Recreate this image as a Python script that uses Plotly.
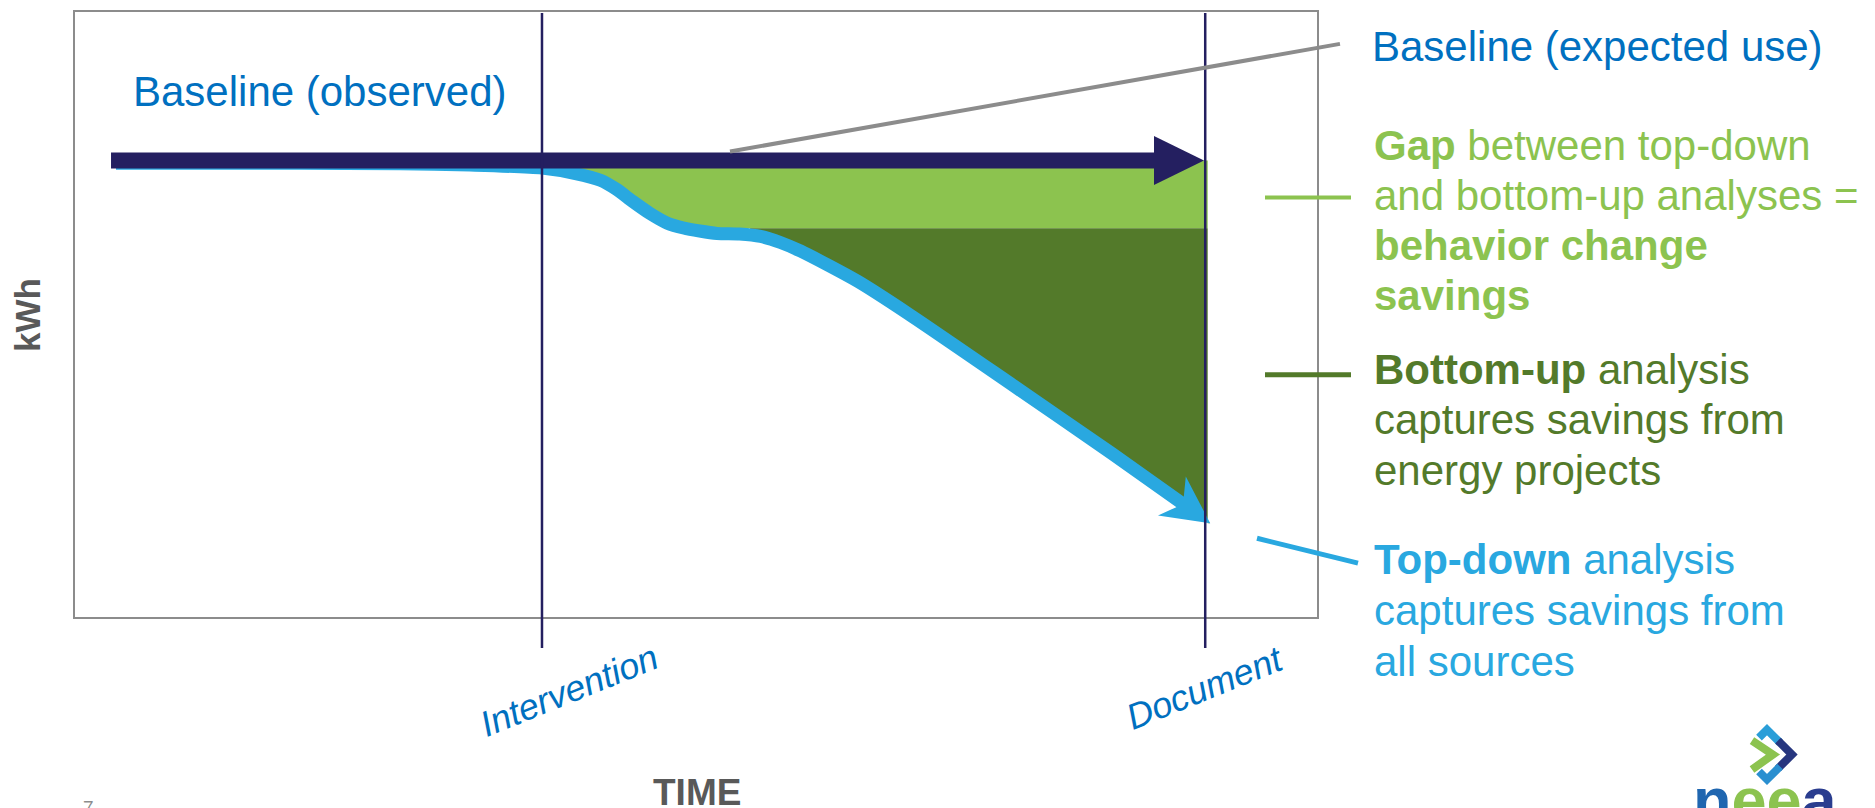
import math
import plotly.graph_objects as go

# ---------------- data (time units 0-100, kWh units 0-100) ----------------
time_topdown = [3.3, 18.1, 26.2, 31.8, 37.6, 40.3, 42.3, 43.6, 44.9, 46.3, 47.7, 49.0,
                50.3, 51.7, 53.5, 55.2, 56.8, 58.4, 63.0, 67.1, 75.3, 83.5, 91.4]
kwh_topdown = [75.0, 75.0, 74.9, 74.7, 74.2, 73.3, 72.2, 70.7, 68.7, 66.7, 65.1, 64.3,
               63.8, 63.4, 63.3, 62.9, 61.9, 60.5, 55.5, 50.1, 38.6, 27.0, 15.5]
time_baseline = [2.9, 90.9]
kwh_baseline = [75.45, 75.45]
kwh_bottomup_level = 64.25
time_gap_split = 54.3
time_fill_end = 91.2
event_labels = ["Intervention", "Document"]
event_times = [37.6, 91.0]

X_RANGE = [0, 100]
Y_RANGE = [0, 100]

# ---------------- layout geometry ----------------
W, H = 1875, 808
M_L, M_R, M_T, M_B = 75, 558, 10, 191
PW = W - M_L - M_R
PH = H - M_T - M_B

FONT = "Liberation Sans, Arial, sans-serif"
NAVY = "#241F60"
BLUE = "#29A8E0"
LIGHT_GREEN = "#8CC34F"
DARK_GREEN = "#537A2A"
TEXT_BLUE = "#0070C0"
GRAY = "#8C8C8C"
AXIS_TEXT = "#595959"


def d2p(x, y):
    px = M_L + (x - X_RANGE[0]) / (X_RANGE[1] - X_RANGE[0]) * PW
    py = M_T + PH - (y - Y_RANGE[0]) / (Y_RANGE[1] - Y_RANGE[0]) * PH
    return px, py


def p2d(px, py):
    x = X_RANGE[0] + (px - M_L) / PW * (X_RANGE[1] - X_RANGE[0])
    y = Y_RANGE[0] + (M_T + PH - py) / PH * (Y_RANGE[1] - Y_RANGE[0])
    return x, y


def paper(px, py):
    return (px - M_L) / PW, (M_T + PH - py) / PH


def arrow_geometry(x0, y0, x1, y1, head_len, head_half, notch_len, notch_half):
    ax, ay = d2p(x0, y0)
    bx, by = d2p(x1, y1)
    dx, dy = bx - ax, by - ay
    L = math.hypot(dx, dy)
    ux, uy = dx / L, dy / L
    nx, ny = -uy, ux

    def pt(a, p):
        return p2d(bx + ux * a + nx * p, by + uy * a + ny * p)

    poly = [pt(-notch_len, notch_half), pt(-head_len, head_half), pt(0, 0),
            pt(-head_len, -head_half), pt(-notch_len, -notch_half)]
    shaft_end = pt(-notch_len + 2, 0)
    return poly, shaft_end


fig = go.Figure()

# light green: gap (behavior change savings)
lg_x = [t for t in time_topdown if event_times[0] <= t <= time_gap_split]
lg_y = [k for t, k in zip(time_topdown, kwh_topdown) if event_times[0] <= t <= time_gap_split]
lg_x += [time_gap_split, time_fill_end, time_fill_end, event_times[0]]
lg_y += [kwh_bottomup_level, kwh_bottomup_level, kwh_baseline[1], kwh_baseline[0]]
fig.add_trace(go.Scatter(x=lg_x, y=lg_y, mode="lines", fill="toself", fillcolor=LIGHT_GREEN,
                         line=dict(width=0, color=LIGHT_GREEN), hoverinfo="skip", showlegend=False))

# dark green: bottom-up savings
dg_pts = [(t, k) for t, k in zip(time_topdown, kwh_topdown) if t > time_gap_split]
dg_x = [time_gap_split, time_fill_end, time_fill_end] + [p[0] for p in reversed(dg_pts)]
dg_y = [kwh_bottomup_level, kwh_bottomup_level, kwh_topdown[-1]] + [p[1] for p in reversed(dg_pts)]
fig.add_trace(go.Scatter(x=dg_x, y=dg_y, mode="lines", fill="toself", fillcolor=DARK_GREEN,
                         line=dict(width=0, color=DARK_GREEN), hoverinfo="skip", showlegend=False))

# top-down curve with arrowhead
poly, shaft_end = arrow_geometry(time_topdown[-2], kwh_topdown[-2], time_topdown[-1], kwh_topdown[-1],
                                 47, 24, 37, 6.5)
fig.add_trace(go.Scatter(x=time_topdown[:-1] + [shaft_end[0]], y=kwh_topdown[:-1] + [shaft_end[1]],
                         mode="lines", line=dict(color=BLUE, width=13, shape="spline", smoothing=0.7),
                         hoverinfo="skip", showlegend=False))
fig.add_trace(go.Scatter(x=[p[0] for p in poly], y=[p[1] for p in poly], mode="lines", fill="toself",
                         fillcolor=BLUE, line=dict(width=0, color=BLUE), hoverinfo="skip", showlegend=False))

# baseline arrow
poly, shaft_end = arrow_geometry(time_baseline[0], kwh_baseline[0], time_baseline[1], kwh_baseline[1],
                                 50, 24.5, 50, 8)
fig.add_trace(go.Scatter(x=[time_baseline[0], shaft_end[0]], y=[kwh_baseline[0], shaft_end[1]],
                         mode="lines", line=dict(color=NAVY, width=16), hoverinfo="skip", showlegend=False))
fig.add_trace(go.Scatter(x=[p[0] for p in poly], y=[p[1] for p in poly], mode="lines", fill="toself",
                         fillcolor=NAVY, line=dict(width=0, color=NAVY), hoverinfo="skip", showlegend=False))

shapes = []
annotations = []

# event lines (extend below plot)
for lab, t in zip(event_labels, event_times):
    xp = (t - X_RANGE[0]) / (X_RANGE[1] - X_RANGE[0])
    shapes.append(dict(type="line", xref="paper", yref="paper", x0=xp, x1=xp,
                       y0=paper(0, 648)[1], y1=paper(0, 11)[1],
                       line=dict(color=NAVY, width=2.5), layer="above"))


def seg(p0, p1, color, width):
    a = paper(*p0)
    b = paper(*p1)
    shapes.append(dict(type="line", xref="paper", yref="paper", x0=a[0], y0=a[1], x1=b[0], y1=b[1],
                       line=dict(color=color, width=width), layer="above"))


seg((730, 150), (1340, 42), GRAY, 4)
seg((1265, 196), (1351, 196), LIGHT_GREEN, 4)
seg((1265, 374), (1351, 374), DARK_GREEN, 5)
seg((1257, 538), (1358, 563), BLUE, 5)


def text(txt, x_px, baseline_px, size, color, xanchor="left", angle=0, center_px=None):
    if center_px is None:
        xp, yp = paper(x_px, baseline_px - 0.35 * size)
    else:
        xp, yp = paper(*center_px)
    annotations.append(dict(text=txt, x=xp, y=yp, xref="paper", yref="paper", xanchor=xanchor,
                            yanchor="middle", showarrow=False, textangle=angle,
                            font=dict(family=FONT, size=size, color=color)))


text("Baseline (observed)", 131, 104, 42, TEXT_BLUE)
text("Baseline (expected use)", 1370, 59, 42, TEXT_BLUE)

RX = 1372
gap_lines = ["<b>Gap</b> between top-down", "and bottom-up analyses =", "<b>behavior change</b>", "<b>savings</b>"]
for s, b in zip(gap_lines, [159, 209, 259, 309]):
    text(s, RX, b, 42, LIGHT_GREEN)
bu_lines = ["<b>Bottom-up</b> analysis", "captures savings from", "energy projects"]
for s, b in zip(bu_lines, [383, 434, 485]):
    text(s, RX, b, 42, DARK_GREEN)
td_lines = ["<b>Top-down</b> analysis", "captures savings from", "all sources"]
for s, b in zip(td_lines, [574, 625, 676]):
    text(s, RX, b, 42, BLUE)

# event labels
for lab, c in zip(event_labels, [(569, 691), (1205, 688)]):
    text("<i>" + lab + "</i>", 0, 0, 36, TEXT_BLUE, xanchor="center", angle=-22, center_px=c)

# axis titles
text("<b>kWh</b>", 0, 0, 35, AXIS_TEXT, xanchor="center", angle=-90, center_px=(28, 314))
text("<b>TIME</b>", 0, 0, 37, AXIS_TEXT, xanchor="center", center_px=(697, 793))
text("7", 0, 0, 19, GRAY, xanchor="center", center_px=(88, 808))

# logo
text("<b><span style='color:#1F66B0'>n</span><span style='color:#8CC34F'>ee</span>"
     "<span style='color:#2A3D8F'>a</span></b>", 0, 0, 63, "#1F66B0", xanchor="center",
     center_px=(1765, 801))


def path_from(pts):
    s = ""
    for i, p in enumerate(pts):
        a = paper(*p)
        s += ("M" if i == 0 else " L") + f"{a[0]:.5f},{a[1]:.5f}"
    return s


def logo_path(pts, color, width):
    shapes.append(dict(type="path", xref="paper", yref="paper", path=path_from(pts),
                       line=dict(color=color, width=width), layer="above"))


logo_path([(1752, 741), (1773, 755), (1752, 770)], LIGHT_GREEN, 8)
logo_path([(1759, 738), (1767, 730), (1780, 743)], "#2A9ED8", 8)
logo_path([(1778, 741), (1792, 755), (1778, 769)], "#27367F", 8)
logo_path([(1780, 767), (1767, 780), (1759, 772)], "#2A8FD0", 8)

axis_common = dict(showgrid=False, zeroline=False, showticklabels=False, ticks="",
                   showline=True, mirror=True, linecolor=GRAY, linewidth=2, fixedrange=True)
fig.update_layout(
    width=W, height=H,
    margin=dict(l=M_L, r=M_R, t=M_T, b=M_B, pad=0),
    paper_bgcolor="white", plot_bgcolor="white",
    xaxis=dict(range=X_RANGE, **axis_common),
    yaxis=dict(range=Y_RANGE, **axis_common),
    shapes=shapes, annotations=annotations,
    showlegend=False,
)

fig.write_html("out.html", include_plotlyjs=True, config={"displayModeBar": False},
               post_script="document.body.style.margin='0px';document.body.style.overflow='hidden';")
